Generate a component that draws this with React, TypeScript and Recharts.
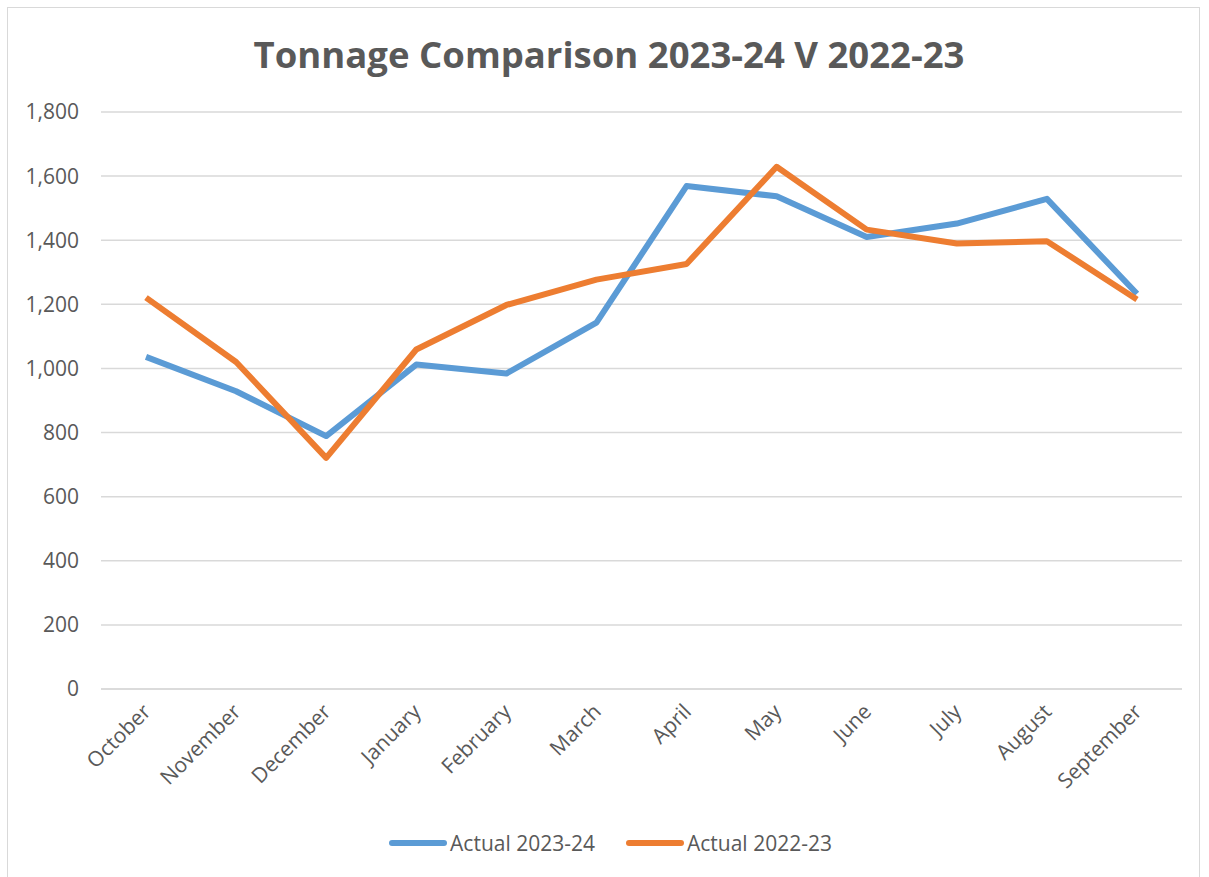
import React from 'react';
import { LineChart, Line, XAxis, YAxis, CartesianGrid, Legend } from 'recharts';

const months = [
  'October', 'November', 'December', 'January', 'February', 'March',
  'April', 'May', 'June', 'July', 'August', 'September',
];
const actual2324 = [1036, 929, 789, 1012, 984, 1143, 1569, 1537, 1410, 1452, 1529, 1233];
const actual2223 = [1221, 1020, 721, 1059, 1198, 1277, 1326, 1629, 1433, 1390, 1397, 1215];
const yTicks = [0, 200, 400, 600, 800, 1000, 1200, 1400, 1600, 1800];
const seriesOrder = ['Actual 2023-24', 'Actual 2022-23'];

const BLUE = '#5B9BD5';
const ORANGE = '#ED7D31';
const TEXT = '#595959';
const FONT = '"Open Sans", sans-serif';

const data = months.map((m, i) => ({
  month: m,
  a2324: actual2324[i],
  a2223: actual2223[i],
}));

function MonthTick(props: any) {
  const { x, y, payload } = props;
  const tx = x + 6;
  const ty = y + 16;
  return (
    <text
      x={tx}
      y={ty}
      transform={`rotate(-45, ${tx}, ${ty})`}
      textAnchor="end"
      fill={TEXT}
      fontSize={21}
      fontFamily={FONT}
    >
      {payload.value}
    </text>
  );
}

function renderLegend(props: any) {
  const items = [...(props.payload || [])].sort(
    (a: any, b: any) => seriesOrder.indexOf(a.value) - seriesOrder.indexOf(b.value)
  );
  return (
    <div
      style={{
        display: 'flex', justifyContent: 'center', gap: 30, paddingLeft: 38,
        fontFamily: FONT, fontSize: 21, color: TEXT,
      }}
    >
      {items.map((it: any) => (
        <div key={it.value} style={{ display: 'flex', alignItems: 'center' }}>
          <svg width={60} height={10} style={{ marginRight: 2 }}>
            <line x1={4} y1={5} x2={56} y2={5} stroke={it.color} strokeWidth={6} strokeLinecap="round" />
          </svg>
          <span>{it.value}</span>
        </div>
      ))}
    </div>
  );
}

export default function App() {
  return (
    <div style={{ position: 'absolute', left: 0, top: 0, width: 1209, height: 877, background: '#fff' }}>
      <div
        style={{
          position: 'absolute', left: 7, top: 7, width: 1193, height: 880,
          border: '1px solid #D9D9D9', boxSizing: 'border-box',
        }}
      />
      <div
        style={{
          position: 'absolute', left: 0, top: 29, width: 1218, textAlign: 'center',
          fontFamily: FONT, fontWeight: 700, fontSize: 36.5, color: TEXT,
        }}
      >
        Tonnage Comparison 2023-24 V 2022-23
      </div>
      <div style={{ position: 'absolute', left: 0, top: 0 }}>
        <LineChart
          width={1209}
          height={877}
          data={data}
          margin={{ top: 112, right: 27, left: 0, bottom: 0 }}
        >
          <CartesianGrid vertical={false} stroke="#D9D9D9" strokeWidth={1.5} />
          <XAxis
            dataKey="month"
            axisLine={{ stroke: '#D9D9D9', strokeWidth: 1.5 }}
            tickLine={false}
            tick={<MonthTick />}
            interval={0}
            padding={{ left: 45, right: 45 }}
            height={140}
          />
          <YAxis
            domain={[0, 1800]}
            ticks={yTicks}
            width={101}
            axisLine={false}
            tickLine={false}
            tickSize={0}
            tickMargin={22}
            tickFormatter={(v: number) => v.toLocaleString('en-US')}
            tick={{ fill: TEXT, fontSize: 21, fontFamily: FONT }}
          />
          <Legend verticalAlign="bottom" height={48} content={renderLegend} />
          <Line
            name="Actual 2023-24"
            dataKey="a2324"
            stroke={BLUE}
            strokeWidth={6}
            dot={false}
            activeDot={false}
            strokeLinejoin="round"
            isAnimationActive={false}
          />
          <Line
            name="Actual 2022-23"
            dataKey="a2223"
            stroke={ORANGE}
            strokeWidth={6}
            dot={false}
            activeDot={false}
            strokeLinejoin="round"
            isAnimationActive={false}
          />
        </LineChart>
      </div>
    </div>
  );
}
